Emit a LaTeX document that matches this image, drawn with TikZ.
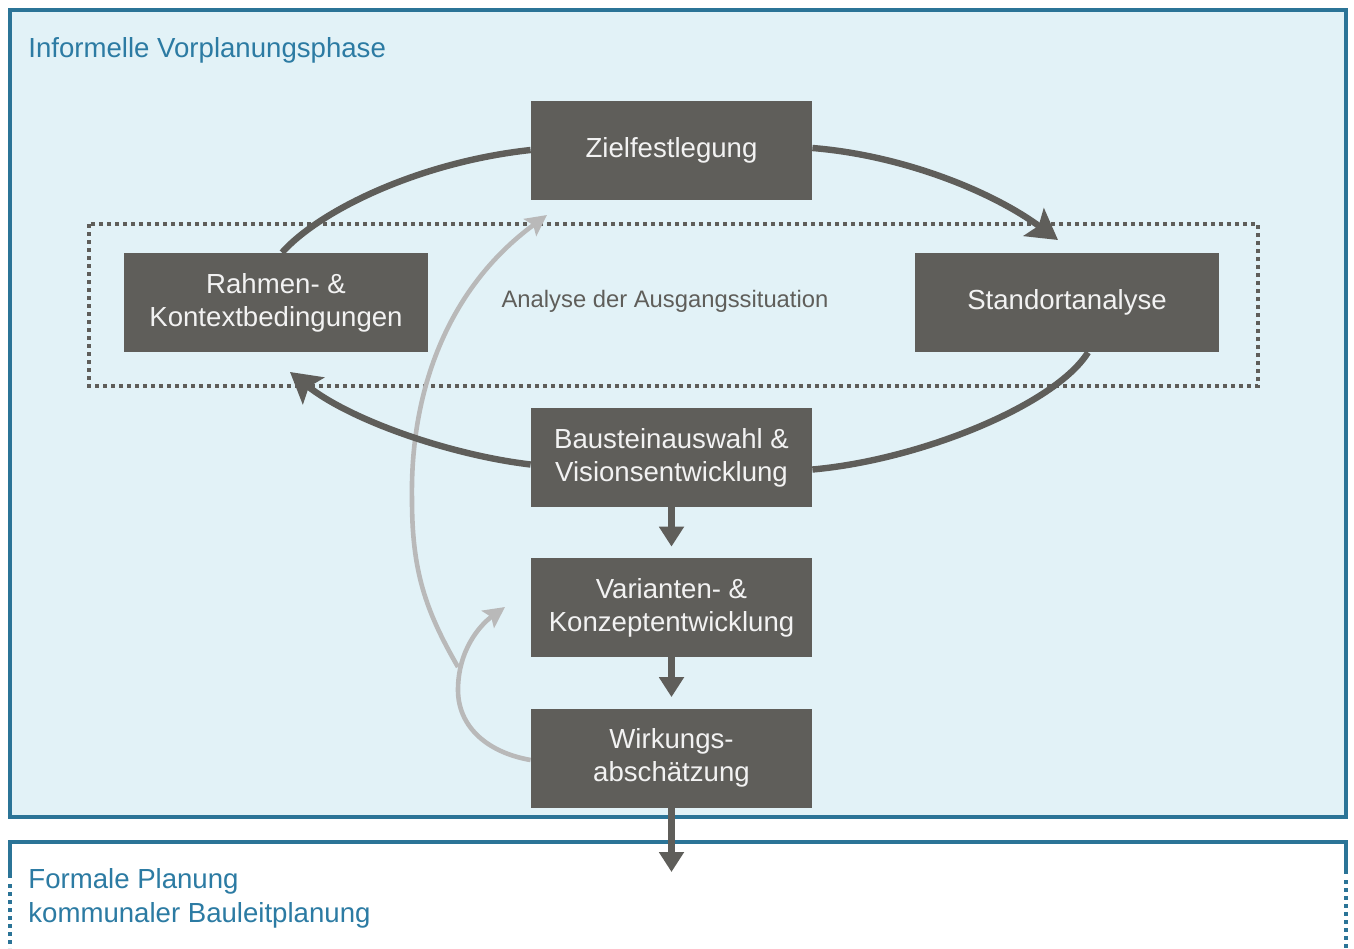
\documentclass[tikz,border=0pt]{standalone}
\usepackage{fontspec}
\setmainfont{Liberation Sans}
\usetikzlibrary{arrows.meta,calc}
\definecolor{bluebd}{HTML}{2B7497}
\definecolor{bluetx}{HTML}{2C7BA3}
\definecolor{lightbg}{HTML}{E2F2F7}
\definecolor{boxgray}{HTML}{5F5E5A}
\definecolor{arrgray}{HTML}{B9B9B9}
\definecolor{boxtext}{HTML}{F2F2F2}
\begin{document}
\begin{tikzpicture}[x=0.5pt,y=-0.5pt,
  stepbox/.style={fill=boxgray,text=boxtext,minimum width=140.5pt,minimum height=49.5pt,
    inner sep=0pt,align=center,font=\fontsize{13.8}{16.5}\selectfont},
  widebox/.style={stepbox,minimum width=152pt},
  darkarrow/.style={draw=boxgray,line width=3.2pt},
  greyarrow/.style={draw=arrgray,line width=2.3pt},
  bigtip/.style={-{Stealth[length=15pt,width=17pt,inset=3pt]}},
  greytip/.style={-{Stealth[length=10.5pt,width=10.5pt,inset=2pt]}},
  downtip/.style={-{Triangle[length=10pt,width=12pt]}},
  titletext/.style={text=bluetx,font=\fontsize{13.8}{16.5}\selectfont,inner sep=0pt},
  dotline/.style={line width=1.8pt,dash pattern=on 1.8pt off 2.2pt},
]
\useasboundingbox (0,0) rectangle (1354,948);
\fill[white] (0,0) rectangle (1354,948);

% phase frames
\draw[bluebd,line width=1.6pt,fill=lightbg] (10,10) rectangle (1346,817);
\draw[bluebd,line width=1.6pt] (10,878) -- (10,842) -- (1346,842) -- (1346,874);
\draw[bluebd,dotline] (10,884) -- (10,948);
\draw[bluebd,dotline] (1346,880) -- (1346,948);

\node[titletext,anchor=base west] (informell) at (28,57) {Informelle Vorplanungsphase};
\node[titletext,anchor=base west] (formal1) at (28,888) {Formale Planung};
\node[titletext,anchor=base west] (formal2) at (28,922) {kommunaler Bauleitplanung};

% analysis frame
\draw[boxgray,dotline] (89,224) rectangle (1258,386);
\node[text=boxgray,font=\fontsize{11.9}{14}\selectfont,inner sep=0pt] (analyse) at (665,301) {Analyse der Ausgangssituation};

% boxes
\node[stepbox] (ziel) at (671.5,150) {Zielfestlegung};
\node[widebox] (rahmen) at (276,302.5) {Rahmen- \&\\Kontextbedingungen};
\node[widebox] (stand) at (1067,302.5) {Standortanalyse};
\node[stepbox] (bau) at (671.5,457.5) {Bausteinauswahl \&\\Visionsentwicklung};
\node[stepbox] (var) at (671.5,607.5) {Varianten- \&\\Konzeptentwicklung};
\node[stepbox] (wirk) at (671.5,758) {Wirkungs-\\abschätzung};

\coordinate (br) at (458,667);
\coordinate (tipS) at (1058,240);
\coordinate (tipR) at (290,372);
\coordinate (tipZ) at (547,215);
\coordinate (tipV) at (505,607);
\coordinate (tipF) at (671.5,872);

% grey feedback arrows
\draw[greyarrow,greytip] ($(wirk.west)+(0,2)$) .. controls (485,752) and (458,725) .. (458,690)
   .. controls (458,650) and (480,625) .. (tipV);
\draw[greyarrow,greytip] (br) .. controls (425,610) and (412,570) .. (412,500)
   .. controls (410,395) and (445,290) .. (tipZ);

% dark cycle
\draw[darkarrow] ($(rahmen.north)+(6,0)$) .. controls (320,210) and (420,162) .. (ziel.west);
\draw[darkarrow,bigtip] ($(ziel.east)+(0,-2)$) .. controls (900,155) and (990,190) .. (tipS);
\draw[darkarrow] ($(stand.south)+(21,0)$) .. controls (1055,405) and (920,460) .. ($(bau.east)+(0,12)$);
\draw[darkarrow,bigtip] ($(bau.west)+(0,7)$) .. controls (450,455) and (350,420) .. (tipR);

% downward flow
\draw[darkarrow,downtip] (bau.south) -- ($(var.north)+(0,-11)$);
\draw[darkarrow,downtip] (var.south) -- ($(wirk.north)+(0,-11)$);
\draw[darkarrow,downtip] (wirk.south) -- (tipF);
\end{tikzpicture}
\end{document}
